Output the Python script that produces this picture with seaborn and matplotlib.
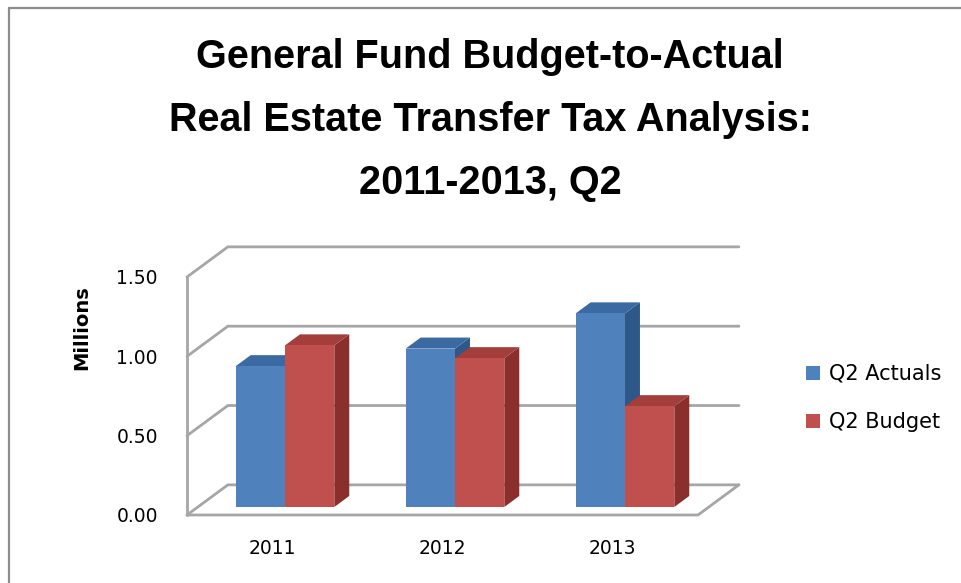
import numpy as np
import pandas as pd
import matplotlib
matplotlib.use("Agg")
import matplotlib.pyplot as plt
from matplotlib.patches import Polygon, Patch
from matplotlib.lines import Line2D
import seaborn as sns

# ==========================
# DATOS
# ==========================
years = ["2011", "2012", "2013"]
actuals = [0.88, 0.99, 1.21]
budget = [1.01, 0.93, 0.63]
series = ["Q2 Actuals", "Q2 Budget"]
y_ticks = [0.0, 0.5, 1.0, 1.5]
title_lines = ["General Fund Budget-to-Actual",
               "Real Estate Transfer Tax Analysis:",
               "2011-2013, Q2"]

df = pd.DataFrame({
    "year": years * 2,
    "value": actuals + budget,
    "series": [series[0]] * len(years) + [series[1]] * len(years),
})

# colores: frente, arriba, costado
front = ["#4F81BD", "#C0504D"]
top = ["#3B69A2", "#A33E3B"]
side = ["#2D5888", "#8A2F2C"]
grid_c = "#A6A6A6"

sns.set_style("white")
plt.rcParams["font.family"] = ["DejaVu Sans"]
plt.rcParams["text.color"] = "black"

W, H = 961, 583
fig = plt.figure(figsize=(W / 100, H / 100), dpi=100)


def fig_box(x0, y_bottom, x1, y_top):
    # caja en pixeles (origen arriba a la izquierda) -> fracciones de figura
    return [x0 / W, 1 - y_bottom / H, (x1 - x0) / W, (y_bottom - y_top) / H]


# ==========================
# PAREDES Y PISO (plano frontal)
# ==========================
ax = fig.add_axes(fig_box(187, 515, 698, 277))
ax.set_xlim(-0.5, 2.5)
ax.set_ylim(0, 1.5)
for s in ax.spines.values():
    s.set_visible(False)
ax.set_facecolor("none")

dX, dY = 0.24, 0.19
lw = 2.0
ax.plot([-0.5, -0.5], [0, 1.5], color=grid_c, lw=lw, clip_on=False)
for v in y_ticks:
    ax.plot([-0.5, -0.5 + dX, 2.5 + dX], [v, v + dY, v + dY],
            color=grid_c, lw=lw, clip_on=False, solid_joinstyle="miter")
ax.plot([-0.5, 2.5, 2.5 + dX], [0, 0, dY], color=grid_c, lw=lw,
        clip_on=False, solid_joinstyle="miter")

ax.set_xticks(range(len(years)), years)
ax.set_yticks(y_ticks, [f"{v:.2f}" for v in y_ticks])
ax.tick_params(axis="y", length=0, pad=21, labelsize=13.5, colors="black")
ax.tick_params(axis="x", length=0, pad=17, labelsize=13.5, colors="black")

# ==========================
# BARRAS (plano de las barras)
# ==========================
axb = fig.add_axes(fig_box(200, 507, 710, 267))
sns.barplot(data=df, x="year", y="value", hue="series", palette=front,
            width=0.58, saturation=1, edgecolor="none", linewidth=0,
            legend=False, ax=axb)
axb.set_xlim(-0.5, 2.5)
axb.set_ylim(0, 1.5)
axb.axis("off")

ddx, ddy = 0.088, 0.069
for k, cont in enumerate(axb.containers):
    for bar in cont:
        x, w, h = bar.get_x(), bar.get_width(), bar.get_height()
        bar.set_zorder(3 + 2 * k)
        lado = Polygon([(x + w, 0), (x + w + ddx, ddy), (x + w + ddx, h + ddy), (x + w, h)],
                       closed=True, facecolor=side[k], edgecolor="none", zorder=2 + 2 * k)
        tapa = Polygon([(x, h), (x + ddx, h + ddy), (x + w + ddx, h + ddy), (x + w, h)],
                       closed=True, facecolor=top[k], edgecolor="none", zorder=2 + 2 * k)
        axb.add_patch(lado)
        axb.add_patch(tapa)

# ==========================
# TEXTOS
# ==========================
title_font = ["Liberation Sans Narrow", "Liberation Sans", "DejaVu Sans"]
for line, base in zip(title_lines, [68, 131, 194]):
    fig.text(490 / W, 1 - base / H, line, ha="center", va="baseline",
             fontsize=28.5, fontweight="bold", family=title_font, color="black")

fig.text(82 / W, 1 - 328 / H, "Millions", rotation=90, ha="center", va="center",
         fontsize=14, fontweight="bold", color="black")

handles = [Patch(facecolor=c, edgecolor="none") for c in front]
fig.legend(handles, series, loc="upper left", bbox_to_anchor=(806 / W, 1 - 364 / H),
           frameon=False, fontsize=15, handlelength=0.65, handleheight=0.65,
           handletextpad=0.45, labelspacing=1.35, borderpad=0, borderaxespad=0)

# borde del area del grafico
fig.add_artist(Line2D([9 / W, 9 / W], [0, 1 - 8 / H], color="#8C8C8C", lw=1.6))
fig.add_artist(Line2D([9 / W, 1], [1 - 8 / H, 1 - 8 / H], color="#8C8C8C", lw=1.6))

fig.savefig("out.png", dpi=100)
